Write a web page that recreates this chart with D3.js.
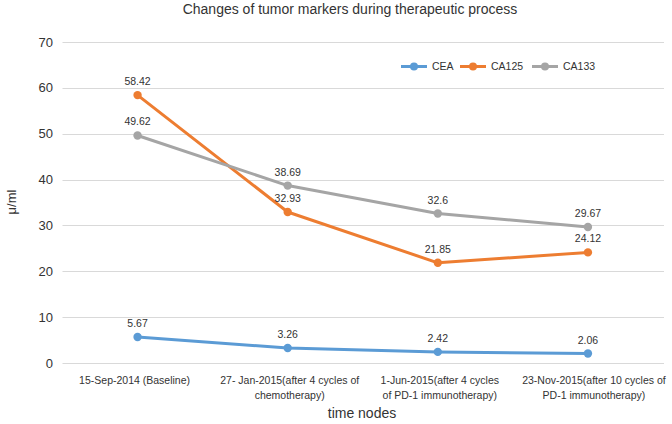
<!DOCTYPE html>
<html><head><meta charset="utf-8">
<script src="https://cdn.jsdelivr.net/npm/d3@7"></script>
<style>body{margin:0;background:#fff;}svg{display:block;font-family:"Liberation Sans",Arial,sans-serif;}</style>
</head><body>
<svg id="c" width="672" height="424"></svg>
<script>
const categories = [
  ["15-Sep-2014 (Baseline)"],
  ["27- Jan-2015(after 4 cycles of", "chemotherapy)"],
  ["1-Jun-2015(after 4 cycles", "of PD-1 immunotherapy)"],
  ["23-Nov-2015(after 10 cycles of", "PD-1 immunotherapy)"]
];
const seriesNames = ["CEA", "CA125", "CA133"];
const CEA = [5.67, 3.26, 2.42, 2.06];
const CA125 = [58.42, 32.93, 21.85, 24.12];
const CA133 = [49.62, 38.69, 32.6, 29.67];
const yTicks = [0, 10, 20, 30, 40, 50, 60, 70];
const colors = ["#5B9BD5", "#ED7D31", "#A5A5A5"];

const series = [CEA, CA125, CA133];
const svg = d3.select("#c");
const x = d3.scaleBand().domain(d3.range(categories.length)).range([62.5, 663]);
const y = d3.scaleLinear().domain([0, 70]).range([363, 42]);
const cx = i => x(i) + x.bandwidth() / 2;

// gridlines
svg.append("g").selectAll("line").data(yTicks).join("line")
  .attr("x1", 62.5).attr("x2", 664)
  .attr("y1", d => Math.round(y(d)) + 0.5).attr("y2", d => Math.round(y(d)) + 0.5)
  .attr("stroke", "#d9d9d9").attr("stroke-width", 1);

// y tick labels
svg.append("g").selectAll("text").data(yTicks).join("text")
  .attr("x", 53).attr("y", d => y(d)).attr("dy", "0.35em")
  .attr("text-anchor", "end").attr("font-size", 13).attr("fill", "#333")
  .text(d => d);

// x tick labels
const xl = svg.append("g").selectAll("text").data(categories).join("text")
  .attr("text-anchor", "middle").attr("font-size", 10.5).attr("fill", "#333")
  .attr("x", (d, i) => cx(i) + (i === 0 ? -3 : i === 3 ? 6 : 2)).attr("y", 384);
xl.selectAll("tspan").data(d => d).join("tspan")
  .attr("x", function() { return d3.select(this.parentNode).attr("x"); })
  .attr("dy", (d, i) => i === 0 ? 0 : 14.5)
  .text(d => d);

// title
svg.append("text").attr("x", 350).attr("y", 14).attr("text-anchor", "middle")
  .attr("font-size", 14).attr("fill", "#333").text("Changes of tumor markers during therapeutic process");

// axis titles
svg.append("text").attr("transform", "translate(16,202) rotate(-90)").attr("text-anchor", "middle")
  .attr("font-size", 13).attr("fill", "#333").text("μ/ml");
svg.append("text").attr("x", 362).attr("y", 418).attr("text-anchor", "middle")
  .attr("font-size", 14).attr("fill", "#333").text("time nodes");

const line = d3.line().x((d, i) => cx(i)).y(d => y(d));
series.forEach((s, k) => {
  const g = svg.append("g");
  g.append("path").datum(s).attr("d", line).attr("fill", "none")
    .attr("stroke", colors[k]).attr("stroke-width", 3).attr("stroke-linejoin", "round");
  g.selectAll("circle").data(s).join("circle")
    .attr("cx", (d, i) => cx(i)).attr("cy", d => y(d)).attr("r", 4.2)
    .attr("fill", colors[k]);
  g.selectAll("text").data(s).join("text")
    .attr("x", (d, i) => cx(i)).attr("y", d => y(d) - 10)
    .attr("text-anchor", "middle").attr("font-size", 10.5).attr("fill", "#333")
    .text(d => d);
});

// legend
const legX = [401, 460, 532];
seriesNames.forEach((n, k) => {
  const g = svg.append("g").attr("transform", `translate(${legX[k]},66.5)`);
  g.append("line").attr("x1", 0).attr("x2", 26).attr("stroke", colors[k]).attr("stroke-width", 3);
  g.append("circle").attr("cx", 13).attr("r", 4).attr("fill", colors[k]);
  g.append("text").attr("x", 31).attr("dy", "0.35em").attr("font-size", 10.5).attr("fill", "#333").text(n);
});
</script>
</body></html>
